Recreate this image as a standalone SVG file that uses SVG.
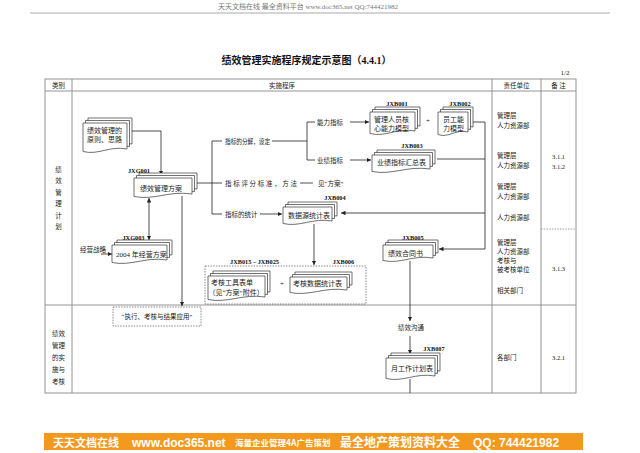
<svg xmlns="http://www.w3.org/2000/svg" xmlns:xlink="http://www.w3.org/1999/xlink" width="640" height="453" viewBox="0 0 640 453">
<style>
.t{font-family:"Liberation Serif","Noto Sans CJK SC",serif;font-size:7px;fill:#222}
.s{font-size:6.5px}
.lb{font-family:"Liberation Serif",serif;font-weight:bold;font-size:6.3px;fill:#111}
.doc{fill:#fff;stroke:#333;stroke-width:0.7}
.tb{stroke:#888;stroke-width:0.9;fill:none}
.cn{fill:none;stroke:#222;stroke-width:0.8}
.ds{fill:none;stroke:#555;stroke-width:0.7;stroke-dasharray:1.5 1.2}
.bn{font-family:"Noto Sans CJK SC","Liberation Sans",sans-serif;font-weight:bold;fill:#fff}
</style>
<defs>
<marker id="ah" viewBox="0 0 6 6" refX="6" refY="3" markerWidth="4.5" markerHeight="4.5" markerUnits="userSpaceOnUse" orient="auto-start-reverse"><path d="M0,0 L6,3 L0,6 Z" fill="#222"/></marker>
<path id="p1" class="doc" d="M83 123H127V149C109.4 145.5 98.4 155.5 83 151.5Z"/>
<path id="p2" class="doc" d="M134 178H192V194C168.8 190.5 154.3 200.5 134 196.5Z"/>
<path id="p3" class="doc" d="M112 245H167V260C145 256.5 131.25 266.5 112 262.5Z"/>
<path id="p4" class="doc" d="M370 112H415V131C397 127.5 385.75 137.5 370 133.5Z"/>
<path id="p5" class="doc" d="M438 112H468V132C456 128.5 448.5 138.5 438 134.5Z"/>
<path id="p6" class="doc" d="M372 155H430V169C406.8 165.5 392.3 175.5 372 171.5Z"/>
<path id="p7" class="doc" d="M283 207H332V221C312.4 217.5 300.15 227.5 283 223.5Z"/>
<path id="p8" class="doc" d="M208 276H265V297C242.2 293.5 227.950 303.5 208 299.5Z"/>
<path id="p9" class="doc" d="M290 277H347V290C324.2 286.5 309.95 296.5 290 292.5Z"/>
<path id="p10" class="doc" d="M383 245H433V258C413 254.5 400.5 264.5 383 260.5Z"/>
<path id="p11" class="doc" d="M386 358H435V376C415.4 372.5 403.15 382.5 386 378.5Z"/>
</defs>
<rect width="640" height="453" fill="#fff"/>
<!-- page header -->
<text x="308" y="8.5" text-anchor="middle" style="font-family:'Liberation Serif','Noto Sans CJK SC',serif;font-size:7px;fill:#777">天天文档在线  最全资料平台   www.doc365.net     QQ:744421982</text>
<line x1="30" y1="13" x2="610" y2="13" stroke="#aaa" stroke-width="1"/>
<text x="306.5" y="63.5" text-anchor="middle" style="font-family:'Liberation Serif','Noto Sans CJK SC',serif;font-size:10px;font-weight:bold;fill:#111">绩效管理实施程序规定示意图（4.4.1）</text>
<text x="565" y="74.5" text-anchor="middle" class="t">1/2</text>
<!-- table -->
<g id="table">
<rect class="tb" x="45" y="79" width="531" height="314"/>
<line class="tb" x1="45" y1="91" x2="576" y2="91"/>
<line class="tb" x1="45" y1="305" x2="576" y2="305"/>
<line class="tb" x1="72" y1="79" x2="72" y2="393"/>
<line class="tb" x1="492" y1="79" x2="492" y2="393"/>
<line class="tb" x1="541" y1="79" x2="541" y2="393"/>
<line x1="541" y1="229" x2="576" y2="229" stroke="#888" stroke-width="0.8" stroke-dasharray="1.5 1.2"/>
<g class="t s" text-anchor="middle">
<text x="58.5" y="87.5">类别</text><text x="282" y="87.5">实施程序</text><text x="516.5" y="87.5">责任单位</text><text x="558.5" y="87.5">备  注</text>
<text x="58.5" y="171.5">绩</text><text x="58.5" y="183">效</text><text x="58.5" y="194.5">管</text><text x="58.5" y="206">理</text><text x="58.5" y="217.5">计</text><text x="58.5" y="229">划</text>
<text x="58.5" y="335.5">绩效</text><text x="58.5" y="347.5">管理</text><text x="58.5" y="359.5">的实</text><text x="58.5" y="371.5">施与</text><text x="58.5" y="383.5">考核</text>
</g>
<g class="t s">
<text x="497" y="117.5">管理层</text><text x="497" y="127.5">人力资源部</text>
<text x="497" y="157.5">管理层</text><text x="497" y="167.5">人力资源部</text>
<text x="497" y="188.5">管理层</text><text x="497" y="198.5">人力资源部</text>
<text x="497" y="219.5">人力资源部</text>
<text x="497" y="244.5">管理层</text><text x="497" y="253.5">人力资源部</text><text x="497" y="262.5">考核与</text><text x="497" y="271.5">被考核单位</text>
<text x="497" y="292.5">相关部门</text>
<text x="497" y="359.5">各部门</text>
</g>
<g class="t s" text-anchor="middle">
<text x="558.5" y="158.5">3.1.1</text><text x="558.5" y="168.5">3.1.2</text><text x="558.5" y="270.5">3.1.3</text><text x="558.5" y="359.5">3.2.1</text>
</g>
</g>
<!-- connectors -->
<g id="connectors">
<path class="cn" d="M132 131H161V175" marker-end="url(#ah)"/>
<path class="cn" d="M149 198V240" marker-start="url(#ah)" marker-end="url(#ah)"/>
<path class="cn" d="M182 196V306" marker-end="url(#ah)"/>
<path class="cn" d="M197 183H222M222 141H212V214H222"/>
<path class="cn" d="M272 141H307M315 122H307V160H315"/>
<path class="cn" d="M350 122H369" marker-end="url(#ah)"/>
<path class="cn" d="M350 160H371" marker-end="url(#ah)"/>
<path class="cn" d="M300 183H313"/>
<path class="cn" d="M260 214H282" marker-end="url(#ah)"/>
<path class="cn" d="M473 122H485V249M437 159H485"/>
<path class="cn" d="M485 213H341" marker-end="url(#ah)"/>
<path class="cn" d="M485 249H439" marker-end="url(#ah)"/>
<path class="cn" d="M314 224V265" marker-end="url(#ah)"/>
<path class="cn" d="M410 261V321" marker-end="url(#ah)"/>
<path class="cn" d="M410 336V354" marker-end="url(#ah)"/>
<path class="cn" d="M410 379V393"/>
<path class="cn" d="M101 254H112" marker-end="url(#ah)"/>
<text x="428" y="122.5" text-anchor="middle" class="t">+</text>
<text x="282" y="285.5" text-anchor="middle" class="t">+</text>
</g>
<!-- labels -->
<g class="t s">
<text x="225" y="143.5" textLength="45" lengthAdjust="spacingAndGlyphs">指标的分解，设定</text>
<text x="317" y="124.5">能力指标</text>
<text x="317" y="162.5">业绩指标</text>
<text x="225" y="185.5" textLength="72">指标评分标准，方法</text>
<text x="318" y="185.5">见“方案”</text>
<text x="225" y="216.5">指标的统计</text>
<text x="80" y="251.5">经营战略</text>
<text x="398" y="329.5">绩效沟通</text>
</g>
<!-- nodes -->
<g id="n-principle"><use xlink:href="#p1" transform="translate(5,-5)"/><use xlink:href="#p1" transform="translate(2.5,-2.5)"/><use xlink:href="#p1"/>
<text class="t" x="87" y="132.5">绩效管理的</text><text class="t" x="87" y="142">原则、思路</text></g>
<g id="n-jxg001"><use xlink:href="#p2" transform="translate(5,-5)"/><use xlink:href="#p2" transform="translate(2.5,-2.5)"/><use xlink:href="#p2"/>
<text class="lb" x="139" y="172.5" text-anchor="middle">JXG001</text><text class="t" x="140" y="190.5">绩效管理方案</text></g>
<g id="n-jxg003"><use xlink:href="#p3" transform="translate(5,-5)"/><use xlink:href="#p3" transform="translate(2.5,-2.5)"/><use xlink:href="#p3"/>
<text class="lb" x="133.5" y="239.5" text-anchor="middle">JXG003</text><text class="t" x="116" y="256.5">2004 年经营方案</text></g>
<g id="n-jxb001"><use xlink:href="#p4" transform="translate(5,-5)"/><use xlink:href="#p4" transform="translate(2.5,-2.5)"/><use xlink:href="#p4"/>
<text class="lb" x="397" y="105.5" text-anchor="middle">JXB001</text><text class="t" x="374" y="121.5">管理人员核</text><text class="t" x="374" y="130.5">心能力模型</text></g>
<g id="n-jxb002"><use xlink:href="#p5" transform="translate(5,-5)"/><use xlink:href="#p5" transform="translate(2.5,-2.5)"/><use xlink:href="#p5"/>
<text class="lb" x="460" y="105.5" text-anchor="middle">JXB002</text><text class="t" x="443" y="121.5">员工能</text><text class="t" x="443" y="130.5">力模型</text></g>
<g id="n-jxb003"><use xlink:href="#p6" transform="translate(5,-5)"/><use xlink:href="#p6" transform="translate(2.5,-2.5)"/><use xlink:href="#p6"/>
<text class="lb" x="412" y="147.5" text-anchor="middle">JXB003</text><text class="t" x="377" y="164.5">业绩指标汇总表</text></g>
<g id="n-jxb004"><use xlink:href="#p7" transform="translate(5,-5)"/><use xlink:href="#p7" transform="translate(2.5,-2.5)"/><use xlink:href="#p7"/>
<text class="lb" x="335" y="200" text-anchor="middle">JXB004</text><text class="t" x="288" y="217.5">数据源统计表</text></g>
<g id="n-group">
<rect class="ds" x="205" y="266" width="161" height="38"/>
<text class="lb" x="254.5" y="264" text-anchor="middle">JXB015 – JXB025</text>
<text class="lb" x="343.5" y="264" text-anchor="middle">JXB006</text>
</g>
<g id="n-jxb015"><use xlink:href="#p8" transform="translate(5,-5)"/><use xlink:href="#p8" transform="translate(2.5,-2.5)"/><use xlink:href="#p8"/>
<text class="t" x="211" y="284.5">考核工具表单</text><text class="t" x="208.5" y="294.5">（见“方案”附件）</text></g>
<g id="n-jxb006"><use xlink:href="#p9" transform="translate(5,-5)"/><use xlink:href="#p9" transform="translate(2.5,-2.5)"/><use xlink:href="#p9"/>
<text class="t" x="293" y="285.5">考核数据统计表</text></g>
<g id="n-jxb005"><use xlink:href="#p10" transform="translate(5,-5)"/><use xlink:href="#p10" transform="translate(2.5,-2.5)"/><use xlink:href="#p10"/>
<text class="lb" x="413" y="240" text-anchor="middle">JXB005</text><text class="t" x="388" y="256">绩效合同书</text></g>
<g id="n-jxb007"><use xlink:href="#p11" transform="translate(5,-5)"/><use xlink:href="#p11" transform="translate(2.5,-2.5)"/><use xlink:href="#p11"/>
<text class="lb" x="434" y="351" text-anchor="middle">JXB007</text><text class="t" x="391" y="370.5">月工作计划表</text></g>
<g id="n-execute">
<rect class="ds" x="113" y="307" width="88" height="19"/>
<text class="t s" x="157" y="318.5" text-anchor="middle">“执行、考核与结果应用”</text>
</g>
<!-- footer banner -->
<rect x="44" y="433" width="539" height="17" fill="#f39a1e"/>
<text class="bn" x="53" y="446.5" style="font-size:11px">天天文档在线</text>
<text class="bn" x="132" y="446.5" style="font-size:12px;font-family:'Liberation Sans',sans-serif">www.doc365.net</text>
<text class="bn" x="235" y="446" style="font-size:8.5px">海量企业管理4A广告策划</text>
<text class="bn" x="340" y="446.5" style="font-size:12px">最全地产策划资料大全</text>
<text class="bn" x="473" y="446.5" style="font-size:12px;font-family:'Liberation Sans',sans-serif">QQ: 744421982</text>
</svg>
